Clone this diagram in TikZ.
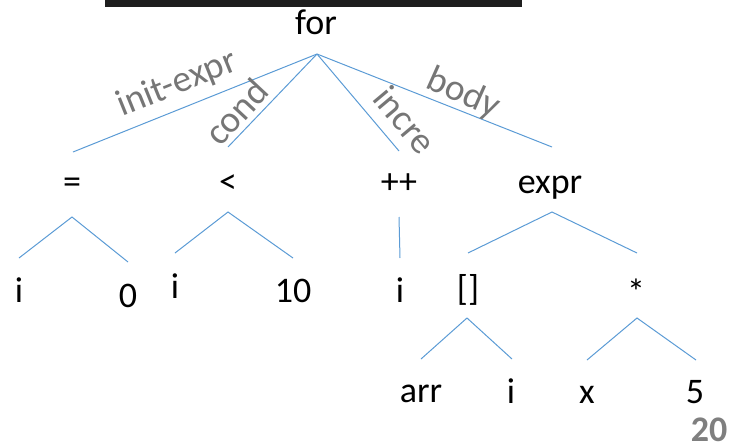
\documentclass[tikz,border=0pt]{standalone}
\usepackage{fontspec}
\setmainfont{Carlito}
\usepackage{tikz}
\definecolor{edgeblue}{RGB}{91,155,213}
\definecolor{labelgray}{RGB}{118,118,118}
\definecolor{pagegray}{RGB}{127,127,127}
\definecolor{barblack}{RGB}{30,30,30}

\begin{document}
\begin{tikzpicture}[x=0.75pt, y=-0.75pt,
  tok/.style={inner sep=0pt, anchor=base, font=\fontsize{27}{31}\selectfont},
  edge/.style={edgeblue, line width=0.75pt},
  elabel/.style={labelgray, inner sep=0pt, font=\fontsize{28}{32}\selectfont}]
\useasboundingbox (0,0) rectangle (733,447);
\fill[barblack] (105,0) rectangle (522,7);

% syntax tree of the for loop
\node[tok] (for) at (316,34) {for};
\node[tok] (assign) at (72,193) {=};
\node[tok] (less) at (228,193) {<};
\node[tok] (incr) at (399,193) {++};
\node[tok] (expr) at (550,193) {expr};
\node[tok] (assign-i) at (19,302) {i};
\node[tok] (assign-0) at (128,307) {0};
\node[tok] (less-i) at (175,298) {i};
\node[tok] (less-10) at (293,302) {10};
\node[tok] (incr-i) at (400,302) {i};
\node[tok] (index) at (468,300) {[]};
\node[tok] (mult) at (636,304) {*};
\node[tok] (index-arr) at (421,402) {arr};
\node[tok] (index-i) at (511,403) {i};
\node[tok] (mult-x) at (587,403) {x};
\node[tok] (mult-5) at (695,403) {5};

% line ends, the lines stop short of the tokens
\coordinate (for-b) at (317,54);
\coordinate (assign-t) at (73,152);
\coordinate (less-t) at (228,147);
\coordinate (incr-t) at (399,151);
\coordinate (expr-t) at (552,147);
\coordinate (assign-b) at (72,217);
\coordinate (assign-l) at (19,258);
\coordinate (assign-r) at (128,262);
\coordinate (less-b) at (228,212);
\coordinate (less-l) at (175,253);
\coordinate (less-r) at (293,258);
\coordinate (incr-b) at (399,217);
\coordinate (incr-c) at (400,258);
\coordinate (expr-b) at (552,212);
\coordinate (expr-l) at (468,253);
\coordinate (expr-r) at (637,253);
\coordinate (index-b) at (467,318);
\coordinate (index-l) at (421,359);
\coordinate (index-r) at (512,359);
\coordinate (mult-b) at (637,318);
\coordinate (mult-l) at (587,360);
\coordinate (mult-r) at (696,360);

\draw[edge] (for-b) -- (assign-t);
\draw[edge] (for-b) -- (less-t);
\draw[edge] (for-b) -- (incr-t);
\draw[edge] (for-b) -- (expr-t);
\draw[edge] (assign-l) -- (assign-b) -- (assign-r);
\draw[edge] (less-l) -- (less-b) -- (less-r);
\draw[edge] (incr-b) -- (incr-c);
\draw[edge] (expr-l) -- (expr-b) -- (expr-r);
\draw[edge] (index-l) -- (index-b) -- (index-r);
\draw[edge] (mult-l) -- (mult-b) -- (mult-r);

% field names on the edges of the for node
\node[elabel, rotate=22] (lbl-init) at (177,84) {init-expr};
\node[elabel, rotate=47] (lbl-cond) at (236,112) {cond};
\node[elabel, rotate=-50] (lbl-incre) at (405,120) {incre};
\node[elabel, rotate=-24] (lbl-body) at (463,94) {body};

\node[pagegray, inner sep=0pt, anchor=base, font=\fontsize{27}{31}\selectfont\bfseries] (page) at (709,441) {20};
\end{tikzpicture}
\end{document}
